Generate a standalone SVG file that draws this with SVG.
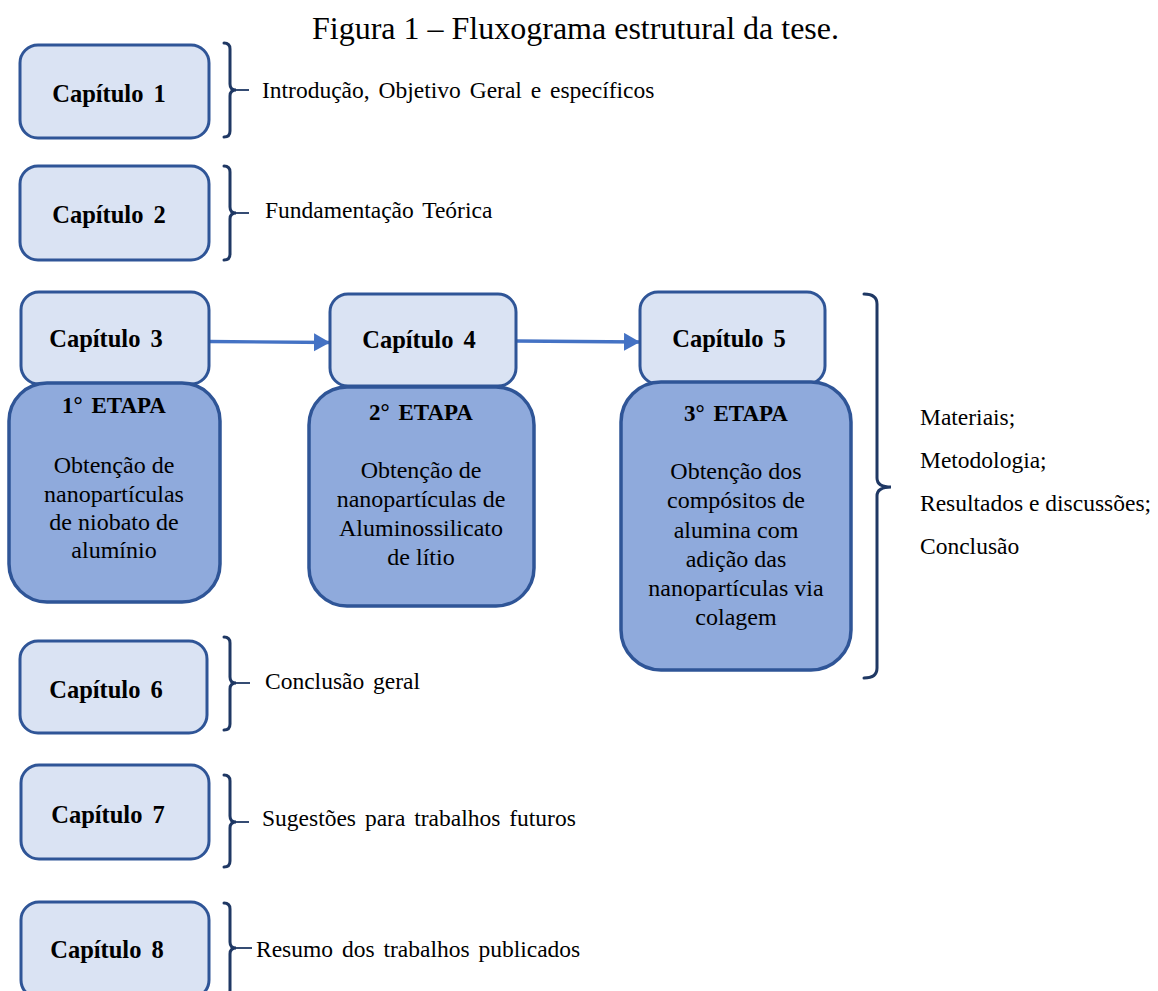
<svg xmlns="http://www.w3.org/2000/svg" width="1158" height="991" viewBox="0 0 1158 991">
<style>
.cap{fill:#DAE3F3;stroke:#2F5597;stroke-width:3}
.et{fill:#8FAADC;stroke:#2F5597;stroke-width:3.5}
.br{fill:none;stroke:#1F3864;stroke-width:3;stroke-linecap:round}
.tip{fill:none;stroke:#1F3864;stroke-width:1.8}
.b{font-family:"Liberation Serif","Times New Roman",serif;font-weight:bold;font-size:24.5px;fill:#000;text-anchor:middle;word-spacing:4px}
.h{font-family:"Liberation Serif","Times New Roman",serif;font-weight:bold;font-size:23px;fill:#000;text-anchor:middle;word-spacing:3px}
.t{font-family:"Liberation Serif","Times New Roman",serif;font-size:24px;fill:#000;text-anchor:middle}
.s{font-family:"Liberation Serif","Times New Roman",serif;font-size:23.5px;fill:#000}
.arr{stroke:#4472C4;stroke-width:3.3;fill:none}
</style>
<defs>
<marker id="ah" markerUnits="userSpaceOnUse" markerWidth="18" markerHeight="20" refX="16" refY="9" orient="auto">
<path d="M0,0 L16,9 L0,18 Z" fill="#4472C4"/>
</marker>
</defs>
<text x="575.5" y="39" font-family="Liberation Serif, Times New Roman, serif" font-size="32" text-anchor="middle">Figura 1 – Fluxograma estrutural da tese.</text>

<g id="connectors">
<line class="arr" x1="209" y1="341.5" x2="330" y2="342.5" marker-end="url(#ah)"/>
<line class="arr" x1="516" y1="341" x2="640" y2="342" marker-end="url(#ah)"/>
</g>

<g id="cap1"><rect class="cap" x="20" y="45" width="189" height="93" rx="18"/><text class="b" x="109" y="102">Capítulo 1</text></g>
<g id="cap2"><rect class="cap" x="20" y="166" width="189" height="94" rx="18"/><text class="b" x="109" y="223">Capítulo 2</text></g>
<g id="cap3"><rect class="cap" x="21" y="292" width="188" height="92" rx="18"/><text class="b" x="106" y="347">Capítulo 3</text></g>
<g id="cap4"><rect class="cap" x="330" y="294" width="186" height="92" rx="18"/><text class="b" x="419" y="348">Capítulo 4</text></g>
<g id="cap5"><rect class="cap" x="640" y="292" width="185" height="92" rx="18"/><text class="b" x="729" y="347">Capítulo 5</text></g>

<g id="etapa1"><rect class="et" x="9" y="383" width="211" height="219" rx="38"/>
<text class="h" x="114" y="413">1° ETAPA</text>
<text class="t" x="114" y="473">Obtenção de</text>
<text class="t" x="114" y="502">nanopartículas</text>
<text class="t" x="114" y="530">de niobato de</text>
<text class="t" x="114" y="558">alumínio</text></g>

<g id="etapa2"><rect class="et" x="309" y="387" width="225" height="219" rx="38"/>
<text class="h" x="421" y="420">2° ETAPA</text>
<text class="t" x="421" y="478">Obtenção de</text>
<text class="t" x="421" y="507">nanopartículas de</text>
<text class="t" x="421" y="536">Aluminossilicato</text>
<text class="t" x="421" y="565">de lítio</text></g>

<g id="etapa3"><rect class="et" x="621" y="382" width="230" height="288" rx="40"/>
<text class="h" x="736" y="421">3° ETAPA</text>
<text class="t" x="736" y="479">Obtenção dos</text>
<text class="t" x="736" y="508">compósitos de</text>
<text class="t" x="736" y="538">alumina com</text>
<text class="t" x="736" y="567">adição das</text>
<text class="t" x="736" y="596">nanopartículas via</text>
<text class="t" x="736" y="625">colagem</text></g>

<g id="cap6"><rect class="cap" x="20" y="641" width="187" height="92" rx="18"/><text class="b" x="106" y="698">Capítulo 6</text></g>
<g id="cap7"><rect class="cap" x="21" y="765" width="188" height="94" rx="18"/><text class="b" x="108" y="823">Capítulo 7</text></g>
<g id="cap8"><rect class="cap" x="21" y="902" width="188" height="96" rx="18"/><text class="b" x="107" y="958">Capítulo 8</text></g>

<g id="brace1"><path class="br" d="M224,43 Q230,43 230,49 L230,84 Q230,90 236,90 Q230,90 230,96 L230,131 Q230,137 224,137"/><line class="tip" x1="235" y1="90" x2="249" y2="90"/><text class="s" x="262" y="98" word-spacing="3">Introdução, Objetivo Geral e específicos</text></g>
<g id="brace2"><path class="br" d="M224,166 Q230,166 230,172 L230,207 Q230,213 236,213 Q230,213 230,219 L230,254 Q230,260 224,260"/><line class="tip" x1="235" y1="213" x2="249" y2="213"/><text class="s" x="265" y="218" word-spacing="3">Fundamentação Teórica</text></g>
<g id="brace5"><path class="br" d="M864,294 Q877,294 877,304 L877,478 Q877,487 891,487 Q877,487 877,496 L877,668 Q877,678 864,678"/>
<text class="s" x="920" y="425">Materiais;</text>
<text class="s" x="920" y="468">Metodologia;</text>
<text class="s" x="920" y="511">Resultados e discussões;</text>
<text class="s" x="920" y="554">Conclusão</text></g>
<g id="brace6"><path class="br" d="M224,637 Q230,637 230,643 L230,677 Q230,683 236,683 Q230,683 230,689 L230,724 Q230,730 224,730"/><line class="tip" x1="235" y1="683" x2="250" y2="683"/><text class="s" x="265" y="689" word-spacing="3">Conclusão geral</text></g>
<g id="brace7"><path class="br" d="M224,775 Q230,775 230,781 L230,816 Q230,822 236,822 Q230,822 230,828 L230,861 Q230,867 224,867"/><line class="tip" x1="235" y1="822" x2="249" y2="822"/><text class="s" x="262" y="826" word-spacing="3">Sugestões para trabalhos futuros</text></g>
<g id="brace8"><path class="br" d="M224,903 Q230,903 230,909 L230,942 Q230,948 236,948 Q230,948 230,954 L230,990 Q230,996 224,996"/><line class="tip" x1="235" y1="948" x2="252" y2="948"/><text class="s" x="256" y="957" word-spacing="3">Resumo dos trabalhos publicados</text></g>
</svg>
